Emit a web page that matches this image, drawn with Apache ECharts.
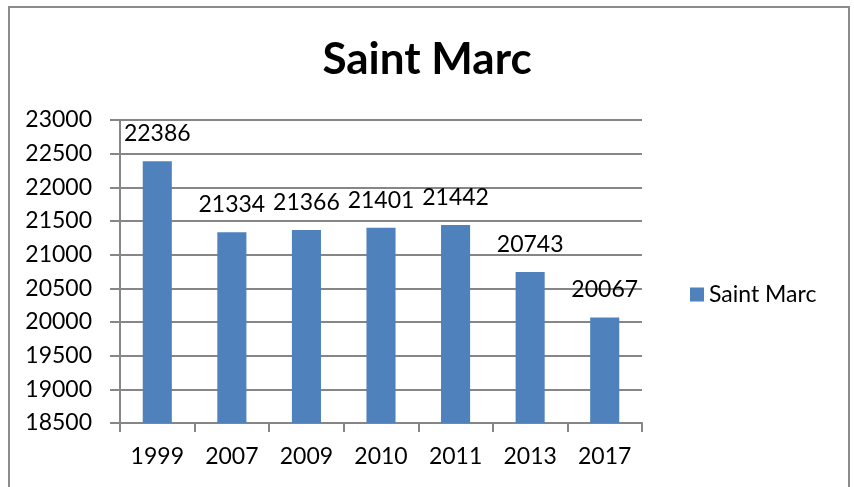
<!DOCTYPE html>
<html>
<head>
<meta charset="utf-8">
<script src="https://cdn.jsdelivr.net/npm/echarts@6/dist/echarts.min.js"></script>
<style>
  html, body { margin: 0; padding: 0; background: #fff; }
  #chart { width: 854px; height: 487px; }
</style>
</head>
<body>
<div id="chart"></div>
<script>
// data
const years = ['1999', '2007', '2009', '2010', '2011', '2013', '2017']
const population = [22386, 21334, 21366, 21401, 21442, 20743, 20067]
const seriesName = 'Saint Marc'

const font = 'Lato, "Open Sans", sans-serif'
const gridColor = '#868686'

const chart = echarts.init(document.getElementById('chart'))

chart.setOption({
  animation: false,
  color: ['#4F81BD'],
  textStyle: { fontFamily: font },
  title: {
    text: 'Saint Marc',
    left: 'center',
    top: 33,
    textStyle: {
      fontFamily: font,
      fontWeight: 'bold',
      fontSize: 44,
      color: '#000'
    }
  },
  graphic: [
    {
      type: 'rect',
      shape: { x: 9, y: 7, width: 840, height: 500 },
      style: { fill: 'none', stroke: '#8c8c8c', lineWidth: 2 },
      silent: true
    }
  ],
  legend: {
    data: [seriesName],
    left: 685,
    top: 278,
    icon: 'rect',
    itemWidth: 14,
    itemHeight: 14,
    itemGap: 8,
    textStyle: { fontFamily: font, fontSize: 23, color: '#000' }
  },
  grid: {
    left: 120,
    right: 212,
    top: 120,
    bottom: 64,
    containLabel: false
  },
  xAxis: {
    type: 'category',
    data: years,
    axisLine: { lineStyle: { color: gridColor, width: 2 } },
    axisTick: { show: true, length: 9, lineStyle: { color: gridColor, width: 2 } },
    axisLabel: { fontFamily: font, fontSize: 23, color: '#000', margin: 22 },
    splitLine: { show: false }
  },
  yAxis: {
    type: 'value',
    min: 18500,
    max: 23000,
    interval: 500,
    axisLine: { show: true, lineStyle: { color: gridColor, width: 2 } },
    axisTick: { show: true, length: 10, lineStyle: { color: gridColor, width: 2 } },
    axisLabel: {
      fontFamily: font,
      fontSize: 23,
      color: '#000',
      margin: 28,
      formatter: v => String(v)
    },
    splitLine: { lineStyle: { color: gridColor, width: 2 } }
  },
  series: [
    {
      name: seriesName,
      type: 'bar',
      data: population,
      barWidth: '39%',
      label: {
        show: true,
        position: 'top',
        distance: 16,
        fontFamily: font,
        fontSize: 23,
        color: '#000'
      }
    }
  ]
})
</script>
</body>
</html>
